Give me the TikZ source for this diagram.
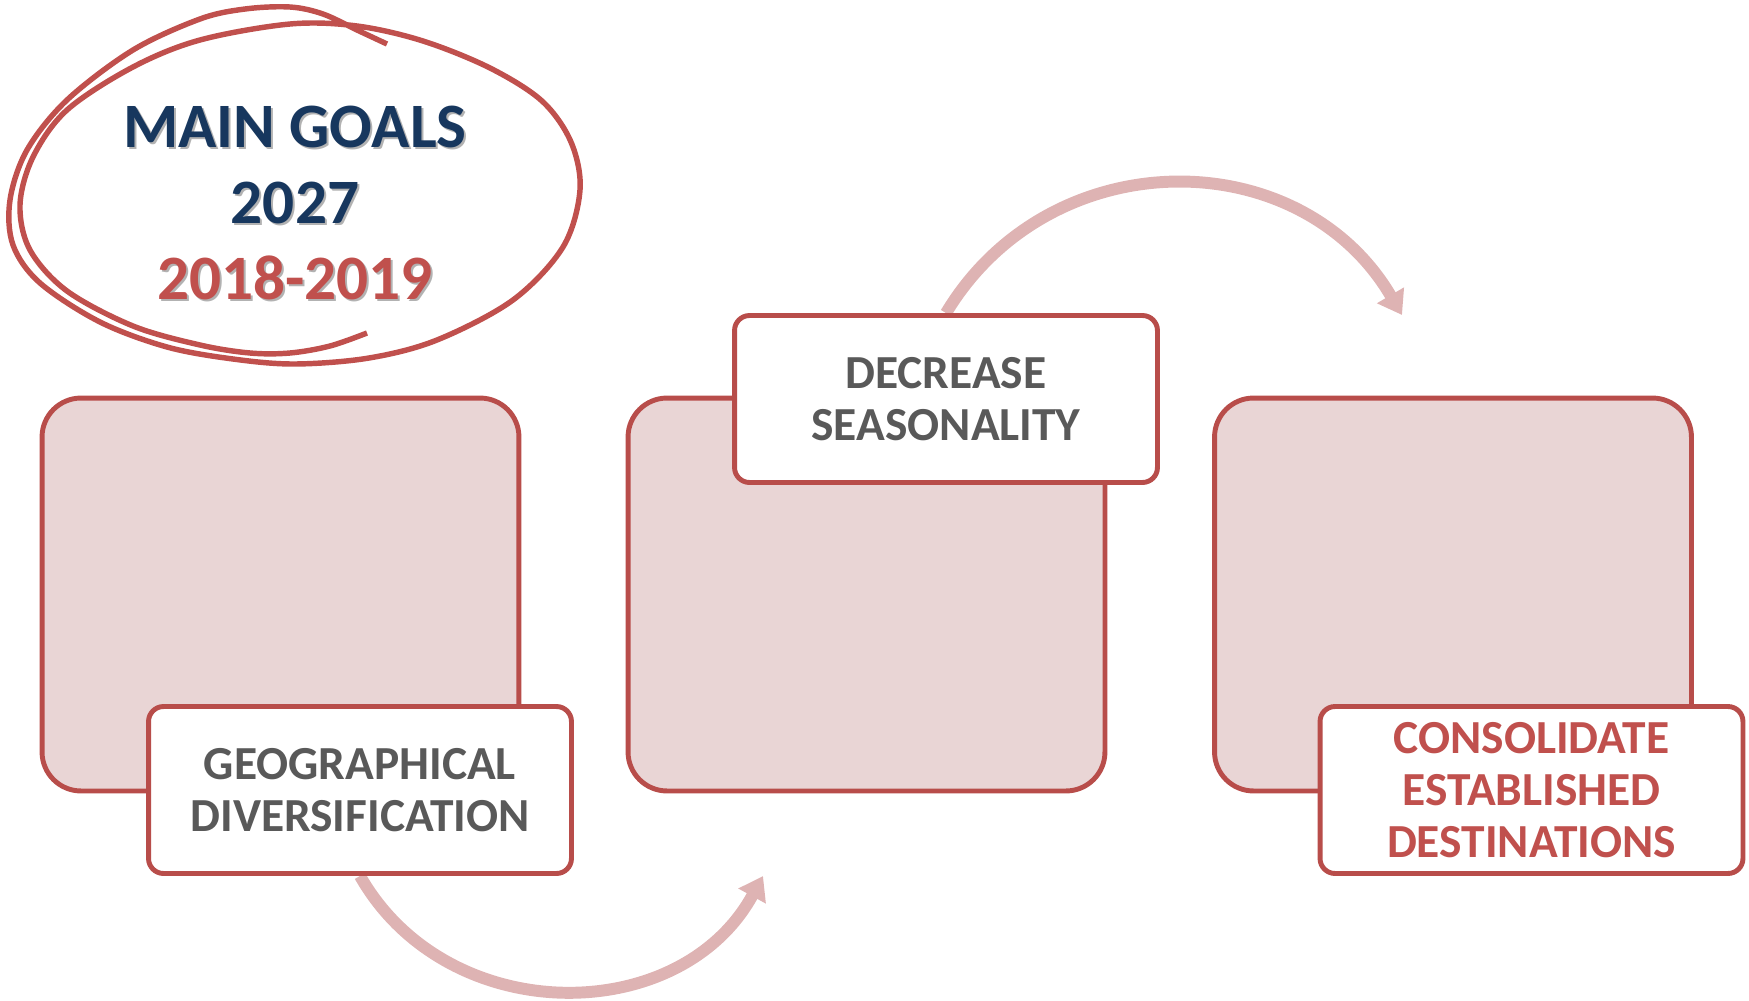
\documentclass[tikz,border=0pt]{standalone}
\usepackage{fontspec}
\setmainfont{Carlito}
\usetikzlibrary{arrows.meta,positioning}
\pgfdeclarelayer{back}
\pgfsetlayers{back,main}

\definecolor{goalred}{HTML}{C0504D}
\definecolor{boxline}{HTML}{B84D4A}
\definecolor{boxfill}{HTML}{E9D5D5}
\definecolor{flowpink}{HTML}{DEB3B3}
\definecolor{goalnavy}{HTML}{17375E}
\definecolor{labelgray}{HTML}{595959}

\tikzset{
  bigbox/.style={
    draw=boxline,
    fill=boxfill,
    line width=2.8pt,
    rounded corners=0.78cm,
    minimum width=9.54cm,
    minimum height=7.86cm,
    inner sep=0pt
  },
  labelbox/.style={
    draw=boxline,
    fill=white,
    line width=2.8pt,
    rounded corners=0.3cm,
    minimum width=8.46cm,
    minimum height=3.34cm,
    inner sep=0pt,
    align=center,
    text=labelgray,
    font=\bfseries\fontsize{27}{29.5}\selectfont
  },
  flow/.style={draw=flowpink,line width=6.8pt,-{Triangle[length=13pt,width=17pt]}},
  pen/.style={draw=goalred,line width=3.1pt},
  goaltext/.style={align=center,font=\bfseries\fontsize{36}{43.5}\selectfont}
}

\begin{document}
\begin{tikzpicture}[x=0.02cm,y=-0.02cm]
\useasboundingbox (0,0) rectangle (1749,1001);

% scribbled ring round the title
\draw[pen] plot[smooth,tension=0.55] coordinates {
  (387,44) (357,30) (323,14) (290,7) (245,9) (200,19) (133,50) (67,100)
  (27,150) (10,200) (13,245) (40,283) (100,322) (167,347) (233,359)
  (295,364) (369,358) (437,340) (513,300) (563,247) (580,190) (571,142)
  (542,101) (490,68) (423,41) (357,26) (290,24) (200,40) (133,67) (67,110)
  (33,157) (20,205) (30,250) (67,291) (133,326) (200,345) (250,353)
  (290,353) (330,346) (367,333)};
\node[goaltext,text=black!30] (goalshadow) at (297,205) {MAIN GOALS\\2027\\2018-2019};
\node[goaltext,text=goalnavy] (goals) at (295,203) {MAIN GOALS\\2027\\\textcolor{goalred}{2018-2019}};

% three stages
\node[bigbox] (west) at (280.5,594.5) {};
\node[bigbox] (mid) at (866.5,594.5) {};
\node[bigbox] (east) at (1453,594.5) {};

\node[labelbox] (geo) at (360,790) {GEOGRAPHICAL\\DIVERSIFICATION};
\node[labelbox] (season) at (946,399) {DECREASE\\SEASONALITY};
\node[labelbox,text=goalred] (consolidate) at (1531.5,790) {CONSOLIDATE\\ESTABLISHED\\DESTINATIONS};

\coordinate (turn1) at (763,876);
\coordinate (turn2) at (1402,315);

\begin{pgfonlayer}{back}
\draw[flow] (geo.south) .. controls +(87,153) and +(-83,152) .. (turn1);
\draw[flow] (season.north) .. controls +(104,-173) and +(-102,-174) .. (turn2);
\end{pgfonlayer}
\end{tikzpicture}
\end{document}
